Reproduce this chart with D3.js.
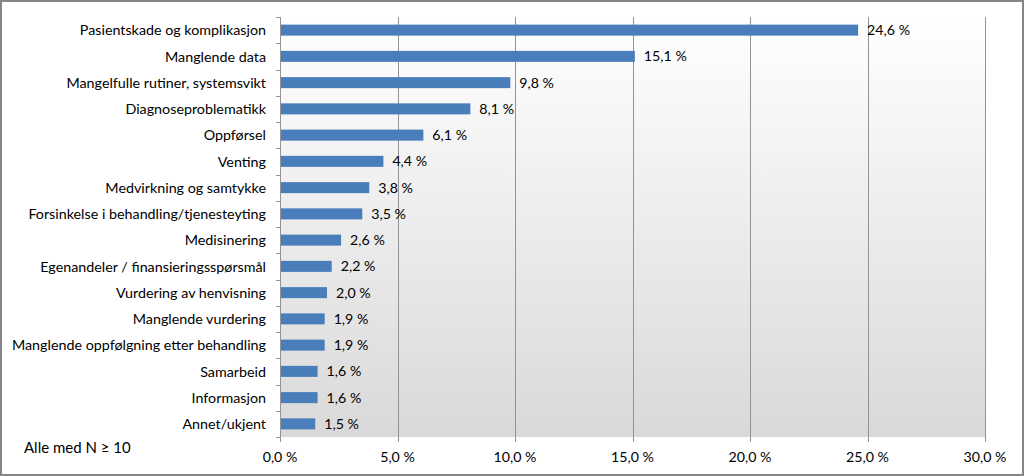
<!DOCTYPE html>
<html lang="no">
<head>
<meta charset="UTF-8">
<title>Klagekategorier</title>
<script src="https://d3js.org/d3.v7.min.js"></script>
<style>
body { margin: 0; background: #fff; }
text { font-family: Lato, "Open Sans", sans-serif; fill: #000; }
</style>
</head>
<body>
<svg width="1024" height="476"></svg>
<script>
// data
var categories = [
  "Pasientskade og komplikasjon",
  "Manglende data",
  "Mangelfulle rutiner, systemsvikt",
  "Diagnoseproblematikk",
  "Oppførsel",
  "Venting",
  "Medvirkning og samtykke",
  "Forsinkelse i behandling/tjenesteyting",
  "Medisinering",
  "Egenandeler / finansieringsspørsmål",
  "Vurdering av henvisning",
  "Manglende vurdering",
  "Manglende oppfølgning etter behandling",
  "Samarbeid",
  "Informasjon",
  "Annet/ukjent"
];
var values = [24.6, 15.1, 9.8, 8.1, 6.1, 4.4, 3.8, 3.5, 2.6, 2.2, 2.0, 1.9, 1.9, 1.6, 1.6, 1.5];
var xTicks = [0, 5, 10, 15, 20, 25, 30];
var note = "Alle med N \u2265 10";

var svg = d3.select("svg"),
    width = +svg.attr("width"),
    height = +svg.attr("height");

var margin = {top: 17, right: 39, bottom: 39, left: 280};
var pw = width - margin.left - margin.right,
    ph = height - margin.top - margin.bottom;

var fmt = function(v) { return d3.format(".1f")(v).replace(".", ",") + " %"; };

var x = d3.scaleLinear().domain([0, 30]).range([0, pw]);
var y = d3.scaleBand().domain(categories).range([0, ph]).paddingInner(0.58).paddingOuter(0.29);

// outer frame
svg.append("rect")
    .attr("x", 1).attr("y", 1)
    .attr("width", width - 2).attr("height", height - 2)
    .attr("fill", "#fff")
    .attr("stroke", "#868686")
    .attr("stroke-width", 2);

var defs = svg.append("defs");
var grad = defs.append("linearGradient")
    .attr("id", "plotbg")
    .attr("x1", 0).attr("y1", 0).attr("x2", 0).attr("y2", 1);
grad.append("stop").attr("offset", "0%").attr("stop-color", "#ffffff");
grad.append("stop").attr("offset", "100%").attr("stop-color", "#d9d9d9");

var g = svg.append("g")
    .attr("transform", "translate(" + margin.left + "," + margin.top + ")");

g.append("rect")
    .attr("width", pw).attr("height", ph)
    .attr("fill", "url(#plotbg)");

// vertical gridlines + ticks below plot
var grid = g.append("g").attr("class", "grid");
grid.selectAll("line")
    .data(xTicks)
    .enter().append("line")
      .attr("x1", function(d) { return Math.round(x(d)) + 0.5; })
      .attr("x2", function(d) { return Math.round(x(d)) + 0.5; })
      .attr("y1", 0)
      .attr("y2", ph + 5)
      .attr("stroke", "#939393");

grid.selectAll("text")
    .data(xTicks)
    .enter().append("text")
      .attr("x", function(d) { return x(d); })
      .attr("y", ph + 25)
      .attr("text-anchor", "middle")
      .style("font-size", "14.2px")
      .text(fmt);

// category ticks on the y axis
var step = y.step();
g.append("g").selectAll("line")
    .data(d3.range(categories.length + 1))
    .enter().append("line")
      .attr("x1", -4).attr("x2", 0)
      .attr("y1", function(i) { return Math.round(i * step) + 0.5; })
      .attr("y2", function(i) { return Math.round(i * step) + 0.5; })
      .attr("stroke", "#939393");

g.append("g").selectAll("text")
    .data(categories)
    .enter().append("text")
      .attr("x", -14)
      .attr("y", function(d) { return y(d) + y.bandwidth() / 2; })
      .attr("dy", "0.36em")
      .attr("text-anchor", "end")
      .style("font-size", "14.3px")
      .text(function(d) { return d; });

// bars
g.append("g").selectAll("rect")
    .data(values)
    .enter().append("rect")
      .attr("x", 1)
      .attr("y", function(d, i) { return y(categories[i]); })
      .attr("width", function(d) { return x(d) - 1; })
      .attr("height", y.bandwidth())
      .attr("fill", "#4a7ebb");

g.append("g").selectAll("text")
    .data(values)
    .enter().append("text")
      .attr("x", function(d) { return x(d) + 9; })
      .attr("y", function(d, i) { return y(categories[i]) + y.bandwidth() / 2; })
      .attr("dy", "0.36em")
      .style("font-size", "14.2px")
      .text(fmt);

svg.append("text")
    .attr("x", 24)
    .attr("y", 453)
    .style("font-size", "15px")
    .text(note);
</script>
</body>
</html>
